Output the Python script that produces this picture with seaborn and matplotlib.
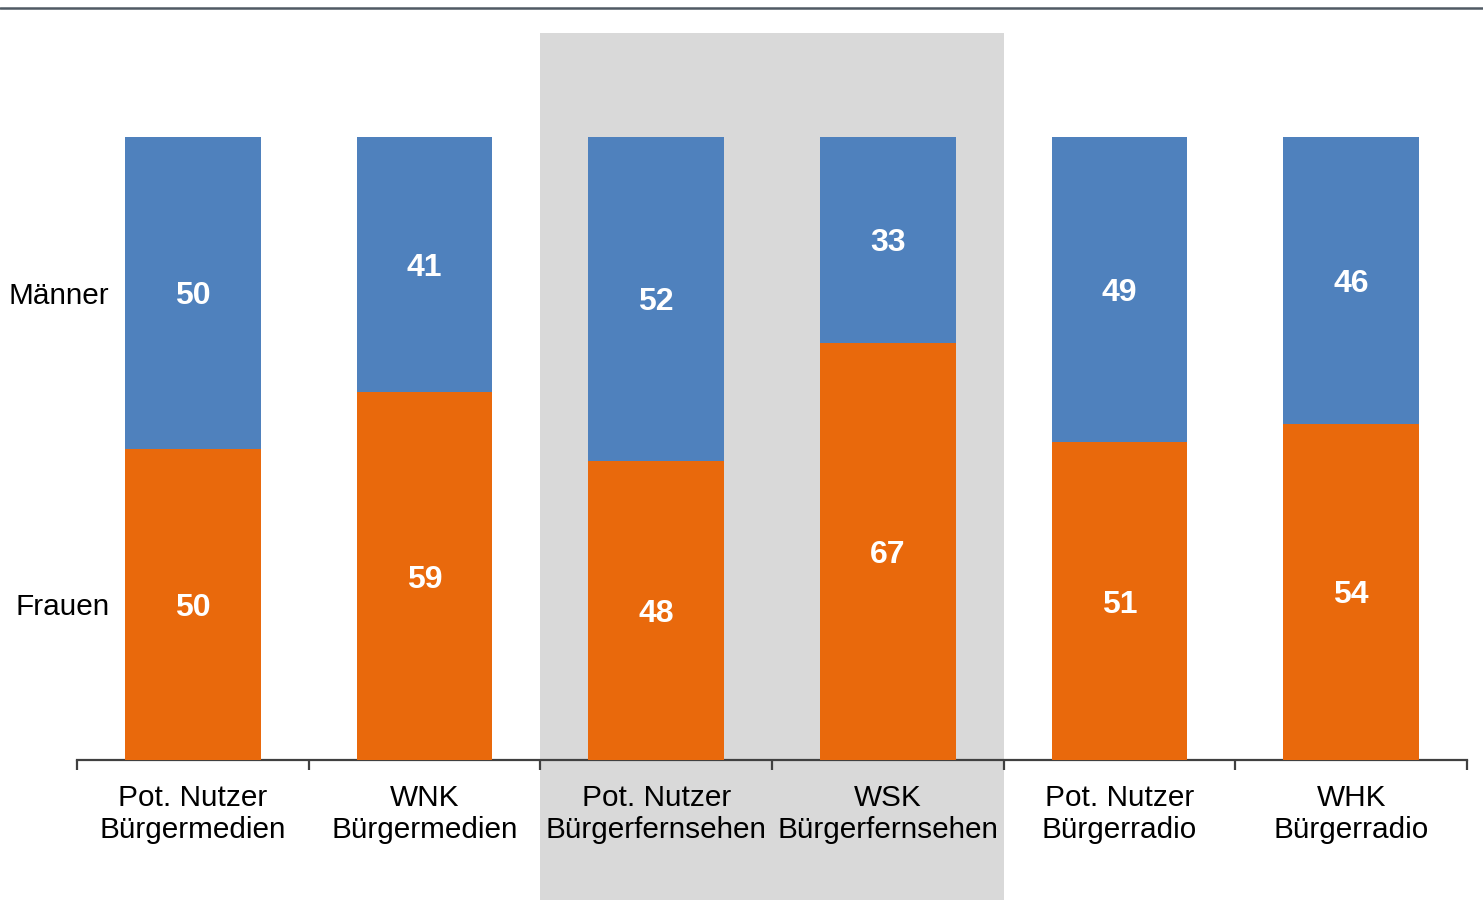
import matplotlib
matplotlib.use("Agg")
import matplotlib.pyplot as plt
import seaborn as sns
import pandas as pd
from matplotlib.lines import Line2D

categories = ["Pot. Nutzer\nBürgermedien", "WNK\nBürgermedien", "Pot. Nutzer\nBürgerfernsehen",
              "WSK\nBürgerfernsehen", "Pot. Nutzer\nBürgerradio", "WHK\nBürgerradio"]
frauen = [50, 59, 48, 67, 51, 54]
maenner = [50, 41, 52, 33, 49, 46]

BLUE = "#4F81BD"
ORANGE = "#E9690C"
GREY = "#D9D9D9"

sns.set_theme(style="white")
plt.rcParams['font.family'] = ['Liberation Sans', 'DejaVu Sans']

df = pd.DataFrame({"cat": categories, "Frauen": frauen, "Männer": maenner})
df["total"] = df["Frauen"] + df["Männer"]

fig = plt.figure(figsize=(14.83, 9.0), dpi=100)
ax = fig.add_axes([77/1483, 140/900, 1390/1483, 727/900])

sns.barplot(data=df, x="cat", y="total", color=BLUE, width=0.587, saturation=1, ax=ax, zorder=2,
            linewidth=0, edgecolor="none")
sns.barplot(data=df, x="cat", y="Frauen", color=ORANGE, width=0.587, saturation=1, ax=ax, zorder=3,
            linewidth=0, edgecolor="none")

ax.set_xlim(-0.5, 5.5)
ax.set_ylim(0, 727/6.23)
ax.axvspan(1.5, 3.5, ymin=-140/727, ymax=1, color=GREY, clip_on=False, zorder=0, lw=0)

for i, (f, m) in enumerate(zip(frauen, maenner)):
    ax.text(i, f/2, str(f), ha="center", va="center_baseline", color="white", fontsize=23, fontweight="bold", zorder=5)
    ax.text(i, f + m/2, str(m), ha="center", va="center_baseline", color="white", fontsize=23, fontweight="bold", zorder=5)

ax.text(-0.36, frauen[0] + maenner[0]/2, "Männer", ha="right", va="center_baseline", fontsize=21.4, color="black")
ax.text(-0.36, frauen[0]/2, "Frauen", ha="right", va="center_baseline", fontsize=21.4, color="black")

for s in ["top", "right", "left"]:
    ax.spines[s].set_visible(False)
ax.spines["bottom"].set_color("#404040")
ax.spines["bottom"].set_linewidth(1.6)
ax.set_yticks([])
ax.set_xlabel("")
ax.set_ylabel("")
ax.set_xticks(range(len(categories)))
ax.set_xticklabels(categories, fontsize=21.4, color="black", linespacing=1.2)
ax.tick_params(axis="x", which="major", length=0, pad=17)
ax.set_xticks([i - 0.5 for i in range(len(categories) + 1)], minor=True)
ax.tick_params(axis="x", which="minor", length=7, width=1.6, color="#404040", direction="out", bottom=True)
ax.patch.set_alpha(0)

fig.add_artist(Line2D([0, 1], [1 - 8/900, 1 - 8/900], color="#505A64", lw=1.8, transform=fig.transFigure))

fig.savefig("out.png", dpi=100)
